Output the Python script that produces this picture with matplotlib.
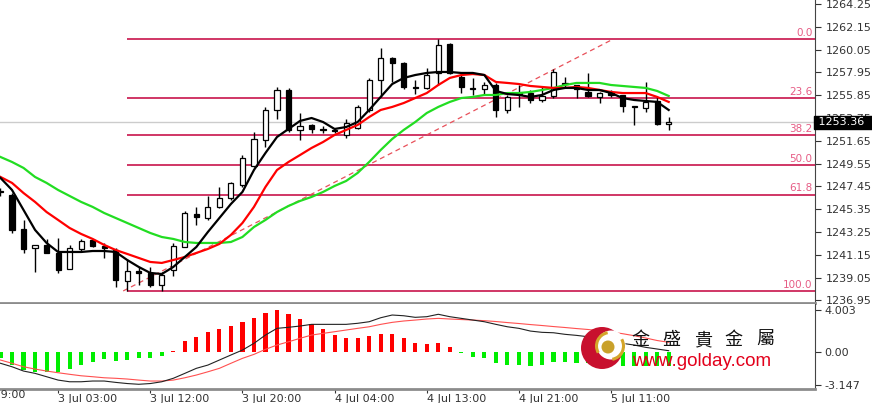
import matplotlib.pyplot as plt
import matplotlib.patches as mpatches
import numpy as np

# H1 candles, bar index 0..58
opens = [1247.03, 1246.66, 1243.53, 1241.78, 1242.06, 1241.32, 1239.85, 1241.69, 1242.52, 1241.96,
         1241.60, 1238.74, 1239.66, 1239.48, 1238.37, 1239.75, 1241.87, 1244.91, 1244.54, 1245.55,
         1246.38, 1247.58, 1249.33, 1251.73, 1254.49, 1256.33, 1252.65, 1253.11, 1252.74, 1252.65,
         1252.19, 1252.83, 1254.49, 1257.25, 1259.28, 1258.82, 1256.61, 1256.52, 1257.90, 1260.57,
         1257.53, 1256.52, 1256.42, 1256.79, 1254.49, 1256.05, 1256.05, 1255.41, 1255.78, 1256.98,
         1256.79, 1256.15, 1255.69, 1256.05, 1255.87, 1254.86, 1254.67, 1255.32, 1253.20]
highs = [1247.31, 1246.85, 1244.36, 1242.06, 1242.61, 1242.70, 1242.06, 1242.61, 1242.61, 1242.24,
         1241.78, 1240.77, 1240.03, 1240.03, 1239.57, 1242.24, 1245.19, 1245.55, 1246.57, 1247.40,
         1247.86, 1250.34, 1252.46, 1254.77, 1256.61, 1256.52, 1254.21, 1253.20, 1253.02, 1252.83,
         1253.66, 1254.95, 1257.44, 1260.20, 1259.33, 1258.91, 1257.25, 1258.36, 1261.03, 1260.62,
         1257.99, 1257.44, 1257.07, 1256.98, 1255.87, 1256.79, 1256.33, 1256.61, 1258.26, 1257.53,
         1256.82, 1257.90, 1256.15, 1256.33, 1255.90, 1254.90, 1257.07, 1255.69, 1253.84]
lows = [1246.57, 1243.16, 1241.32, 1239.57, 1241.32, 1239.48, 1239.85, 1241.41, 1241.87, 1240.86,
        1238.19, 1237.82, 1238.37, 1238.19, 1237.85, 1239.20, 1241.87, 1243.90, 1244.36, 1245.46,
        1246.20, 1247.40, 1249.23, 1251.08, 1253.66, 1252.46, 1251.73, 1252.37, 1252.37, 1252.37,
        1251.91, 1252.74, 1254.30, 1255.69, 1257.07, 1256.42, 1255.96, 1256.42, 1256.79, 1257.80,
        1256.05, 1255.87, 1255.87, 1253.84, 1254.21, 1254.77, 1255.13, 1255.23, 1255.59, 1256.52,
        1255.59, 1255.69, 1255.13, 1255.69, 1254.30, 1253.11, 1254.30, 1253.11, 1252.65]
closes = [1246.94, 1243.44, 1241.69, 1242.06, 1241.32, 1239.75, 1241.78, 1242.42, 1241.96, 1241.78,
          1238.83, 1239.66, 1239.48, 1238.37, 1239.29, 1241.96, 1245.00, 1244.63, 1245.55, 1246.38,
          1247.76, 1250.07, 1251.82, 1254.49, 1256.33, 1252.65, 1253.02, 1252.74, 1252.65, 1252.55,
          1253.29, 1254.77, 1257.25, 1259.28, 1258.82, 1256.61, 1256.52, 1257.71, 1260.47, 1257.90,
          1256.61, 1256.42, 1256.79, 1254.49, 1255.69, 1255.96, 1255.41, 1255.78, 1257.99, 1256.89,
          1256.42, 1255.78, 1256.05, 1255.87, 1254.86, 1254.77, 1255.23, 1253.20, 1253.36]

ma_black = [1248.23, 1247.12, 1245.28, 1243.44, 1242.24, 1241.41, 1241.41, 1241.41, 1241.50, 1241.50,
            1241.41, 1240.67, 1240.03, 1239.48, 1239.38, 1240.03, 1240.95, 1241.87, 1243.25, 1244.54,
            1245.83, 1246.94, 1248.96, 1250.53, 1252.00, 1252.74, 1253.48, 1253.75, 1253.38, 1252.74,
            1252.92, 1253.38, 1254.49, 1255.69, 1256.88, 1257.44, 1257.71, 1257.90, 1257.99, 1257.99,
            1257.90, 1257.90, 1257.71, 1256.24, 1255.96, 1255.87, 1255.69, 1255.87, 1256.33, 1256.52,
            1256.52, 1256.33, 1256.33, 1256.05, 1255.59, 1255.41, 1255.32, 1255.23, 1254.49]
ma_red = [1248.32, 1247.77, 1246.84, 1246.02, 1245.09, 1244.36, 1243.62, 1243.07, 1242.61, 1242.06,
          1241.59, 1241.23, 1240.86, 1240.49, 1240.40, 1240.67, 1240.95, 1241.32, 1241.69, 1242.15,
          1242.98, 1244.08, 1245.56, 1247.40, 1248.96, 1249.70, 1250.34, 1250.99, 1251.54, 1252.19,
          1252.65, 1253.11, 1253.84, 1254.49, 1254.77, 1255.13, 1255.59, 1256.05, 1256.79, 1257.44,
          1257.71, 1257.80, 1257.71, 1257.07, 1256.98, 1256.88, 1256.70, 1256.61, 1256.52, 1256.52,
          1256.61, 1256.52, 1256.33, 1256.15, 1256.05, 1256.05, 1256.05, 1255.69, 1255.23]
ma_green = [1250.16, 1249.70, 1249.15, 1248.32, 1247.77, 1247.12, 1246.57, 1246.02, 1245.56, 1245.00,
            1244.54, 1244.08, 1243.62, 1243.16, 1242.79, 1242.61, 1242.33, 1242.24, 1242.24, 1242.24,
            1242.33, 1242.79, 1243.71, 1244.36, 1245.09, 1245.65, 1246.11, 1246.48, 1246.94, 1247.49,
            1247.95, 1248.69, 1249.70, 1250.80, 1251.82, 1252.65, 1253.38, 1254.21, 1254.77, 1255.23,
            1255.59, 1255.69, 1255.87, 1255.87, 1256.05, 1256.05, 1256.15, 1256.33, 1256.52, 1256.79,
            1256.98, 1256.98, 1256.98, 1256.79, 1256.70, 1256.61, 1256.52, 1256.24, 1255.78]

# MACD window
hist = [-0.65, -1.29, -1.76, -1.95, -1.95, -1.98, -1.67, -1.29, -0.97, -0.74,
        -0.91, -0.81, -0.65, -0.65, -0.40, 0.05, 1.00, 1.41, 1.83, 2.12,
        2.43, 2.84, 3.22, 3.70, 4.003, 3.55, 3.10, 2.59, 2.12, 1.57,
        1.32, 1.26, 1.48, 1.67, 1.67, 1.26, 0.84, 0.69, 0.78, 0.46,
        -0.14, -0.50, -0.65, -1.12, -1.29, -1.29, -1.35, -1.29, -0.97, -0.97,
        -1.12, -1.10, -1.19, -1.29, -1.38, -1.38, -1.38, -1.38, -1.38]
macd_main = [-1.12, -1.45, -1.86, -2.08, -2.40, -2.72, -2.88, -2.88, -2.81, -2.81,
             -2.94, -3.05, -3.12, -3.05, -2.88, -2.55, -2.08, -1.60, -1.29, -0.81,
             -0.33, 0.14, 0.78, 1.57, 2.21, 2.31, 2.43, 2.59, 2.59, 2.59,
             2.59, 2.69, 2.84, 3.22, 3.48, 3.41, 3.26, 3.32, 3.55, 3.32,
             3.16, 3.00, 2.84, 2.59, 2.36, 2.21, 1.95, 1.83, 1.79, 1.64,
             1.54, 1.41, 1.26, 1.07, 0.78, 0.62, 0.40, 0.24, 0.08]
macd_signal = [-0.81, -1.12, -1.45, -1.67, -1.86, -2.02, -2.17, -2.31, -2.40, -2.50,
               -2.55, -2.62, -2.72, -2.81, -2.81, -2.72, -2.50, -2.24, -1.93, -1.60,
               -1.12, -0.65, -0.27, 0.21, 0.62, 0.93, 1.26, 1.57, 1.73, 1.89,
               2.05, 2.21, 2.36, 2.59, 2.78, 2.91, 3.00, 3.10, 3.16, 3.10,
               3.05, 3.00, 2.94, 2.86, 2.76, 2.67, 2.57, 2.48, 2.38, 2.29,
               2.19, 2.10, 1.98, 1.86, 1.70, 1.51, 1.29, 1.05, 0.88]

# fibonacci retracement
fib_high = 1261.03
fib_low = 1237.82
fib_levels = [0.0, 23.6, 38.2, 50.0, 61.8, 100.0]
fib_start_bar = 11
trend_x = [10.65, 53.2]
trend_y = [1237.82, 1261.03]
last_price = 1253.36

price_ticks = [1264.25, 1262.15, 1260.05, 1257.95, 1255.85, 1253.75, 1251.65,
               1249.55, 1247.45, 1245.35, 1243.25, 1241.15, 1239.05, 1236.95]
macd_ticks = [4.003, 0.0, -3.147]
macd_labels = ['4.003', '0.00', '-3.147']
time_ticks = [5, 13, 21, 29, 37, 45, 53]
time_labels = ['3 Jul 03:00', '3 Jul 12:00', '3 Jul 20:00', '4 Jul 04:00',
               '4 Jul 13:00', '4 Jul 21:00', '5 Jul 11:00']
first_time = (-3, '2 Jul 19:00')

plt.rcParams['font.family'] = ['DejaVu Sans']
fig = plt.figure(figsize=(8.72, 4.03), dpi=100)
W, H = 872.0, 403.0
ax = fig.add_axes([0, 1 - 303 / H, 815 / W, 303 / H])
ax2 = fig.add_axes([0, 1 - 389 / H, 815 / W, 85 / H])

x = np.arange(len(closes))
o = np.array(opens)
c = np.array(closes)
up = c >= o

# price window
ax.axhline(last_price, color='#cccccc', lw=1, zorder=0.5)
rng = fib_high - fib_low
for lv in fib_levels:
    p = fib_high - lv / 100 * rng
    ax.hlines(p, fib_start_bar, 80, color='#c8144b', lw=1.2, zorder=1)
    ax.text(0.997, p + 0.12, f'{lv:.1f}', transform=ax.get_yaxis_transform(),
            ha='right', va='bottom', fontsize=7.5, color='#e65c85', zorder=1)
ax.plot(trend_x, trend_y, color='#e8505a', lw=0.9, ls=(0, (4, 3)), zorder=1.5)

ax.vlines(x, lows, highs, color='black', lw=1, zorder=2)
ax.bar(x, np.abs(c - o), bottom=np.minimum(o, c), width=0.45,
       color=np.where(up, 'white', 'black'), edgecolor='black', lw=0.9, zorder=2.2)

ax.plot(x, ma_green, color='#22dd22', lw=1.6, zorder=3)
ax.plot(x, ma_red, color='#ff0000', lw=1.6, zorder=3)
ax.plot(x, ma_black, color='black', lw=1.6, zorder=3)

ax.set_xlim(-0.043, 70.7)
ax.set_ylim(1236.71, 1264.62)
ax.set_xticks([])
ax.yaxis.tick_right()
ax.set_yticks(price_ticks)
ax.set_yticklabels([f'{t:.2f}' for t in price_ticks])
ax.tick_params(axis='y', direction='out', length=4, width=0.8, pad=4,
               labelsize=8, colors='#333333')
for s in ['top', 'left']:
    ax.spines[s].set_visible(False)
ax.spines['right'].set_color('#444444')
ax.spines['bottom'].set_color('#8c8c8c')
ax.spines['bottom'].set_linewidth(2)

ax.text(1.0, last_price, ' 1253.36  ', transform=ax.get_yaxis_transform(),
        ha='left', va='center', fontsize=8, color='white', clip_on=False,
        bbox=dict(boxstyle='square,pad=0.12', fc='black', ec='black'), zorder=10)

# MACD window
h = np.array(hist)
ax2.bar(x, h, width=0.36, color=np.where(h >= 0, '#ff0000', '#00ee00'), zorder=2)
ax2.plot(x, macd_signal, color='#ff5050', lw=0.8, zorder=3)
ax2.plot(x, macd_main, color='#222222', lw=0.8, zorder=3)
ax2.set_xlim(-0.043, 70.7)
ax2.set_ylim(-3.57, 4.53)
ax2.yaxis.tick_right()
ax2.set_yticks(macd_ticks)
ax2.set_yticklabels(macd_labels)
ax2.set_xticks(time_ticks)
ax2.set_xticklabels(time_labels)
for lab in ax2.get_xticklabels():
    lab.set_ha('left')
ax2.tick_params(axis='y', direction='out', length=4, width=0.8, pad=3,
                labelsize=8, colors='#333333')
ax2.tick_params(axis='x', direction='out', length=3, width=0.8, pad=0.5,
                labelsize=8, colors='#333333')
ax2.text(first_time[0], -0.01, first_time[1], transform=ax2.get_xaxis_transform(),
         ha='left', va='top', fontsize=8, color='#333333', clip_on=False)
for s in ['top', 'left']:
    ax2.spines[s].set_visible(False)
ax2.spines['right'].set_color('#444444')
ax2.spines['bottom'].set_color('#8c8c8c')
ax2.spines['bottom'].set_linewidth(2)

# golday watermark
lg = fig.add_axes([0, 0, 1, 1], zorder=5)
lg.set_xlim(0, W)
lg.set_ylim(H, 0)
lg.axis('off')
lg.add_patch(mpatches.Circle((602, 348), 21, fc='#c8102e', ec='none'))
lg.add_patch(mpatches.Circle((611, 345), 14.5, fc='white', ec='none'))
lg.add_patch(mpatches.Arc((610, 346), 27, 27, theta1=150, theta2=260, color='#d4a52a', lw=2.2))
lg.add_patch(mpatches.Arc((610, 346), 27, 27, theta1=330, theta2=80, color='#d4a52a', lw=2.2))
lg.add_patch(mpatches.Circle((608, 347), 6.5, fc='#c9a12a', ec='none'))
for k, ch in enumerate('金盛貴金屬'):
    lg.text(640 + 31.3 * k, 340, ch, ha='center', va='center', fontsize=13,
            family=['Noto Sans CJK TC', 'DejaVu Sans'], color='#111111')
lg.text(632, 361, 'www.golday.com', ha='left', va='center', fontsize=13.5,
        family='Liberation Sans', color='#e3001b')

fig.savefig('out.png', dpi=100)
